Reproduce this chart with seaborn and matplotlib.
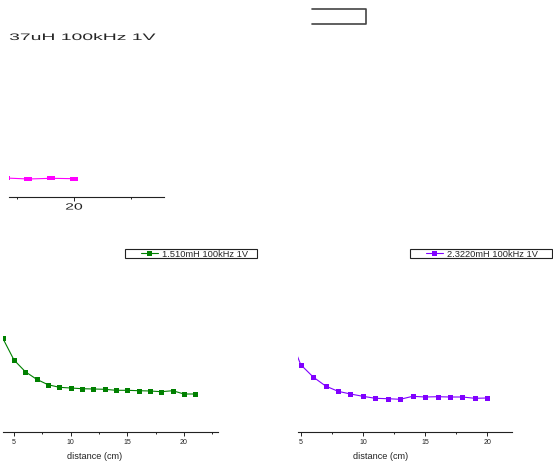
import matplotlib
matplotlib.use('Agg')
import matplotlib.pyplot as plt
import matplotlib.patheffects as pe
from matplotlib.transforms import Affine2D
from matplotlib.path import Path
from matplotlib.lines import Line2D
from matplotlib.ticker import MultipleLocator
import seaborn as sns

# top-left panel (only a cropped piece is visible)
dist_top = [14, 16, 18, 20]
volt_top = [0.19, 0.18, 0.187, 0.183]
label_top = "37uH 100kHz 1V"

# bottom-left panel
dist_green = list(range(4, 22))
volt_green = [0.94, 0.72, 0.603, 0.527, 0.473, 0.447, 0.44, 0.433, 0.43,
              0.427, 0.417, 0.417, 0.413, 0.41, 0.403, 0.413, 0.38, 0.38]
label_green = "1.510mH 100kHz 1V"

# bottom-right panel
dist_purple = list(range(4, 21))
volt_purple = [0.99, 0.673, 0.55, 0.46, 0.407, 0.38, 0.357, 0.337, 0.333,
               0.327, 0.357, 0.35, 0.353, 0.35, 0.35, 0.337, 0.34]
label_purple = "2.3220mH 100kHz 1V"

xlabel = "distance (cm)"

W, H = 553, 464


class Stretch(pe.AbstractPathEffect):
    # the top part of the picture is squeezed sideways, widen the glyphs
    def __init__(self, sx, about=0.0):
        super().__init__()
        self.sx = sx
        self.about = about

    def draw_path(self, renderer, gc, tpath, affine, rgbFace=None):
        ext = tpath.get_extents(affine)
        x0 = ext.x0 + self.about * ext.width
        t = affine + Affine2D().translate(-x0, 0).scale(self.sx, 1).translate(x0, 0)
        renderer.draw_path(gc, tpath, t, rgbFace)


def origin_box(left_em, right_em):
    # legend frame with more room left of the handle than right of the text
    def box(x0, y0, w, h, mutation_size):
        x0 -= left_em * mutation_size
        w += (left_em + right_em) * mutation_size
        return Path([(x0, y0), (x0 + w, y0), (x0 + w, y0 + h), (x0, y0 + h), (x0, y0)], closed=True)
    return box


def px(l, t, r, b):
    return [l / W, 1 - b / H, (r - l) / W, (b - t) / H]


def style(ax, lsize):
    sns.despine(ax=ax, left=True)
    ax.set_yticks([])
    ax.set_ylabel('')
    ax.spines['bottom'].set_linewidth(0.8)
    ax.spines['bottom'].set_color('#222222')
    ax.tick_params(axis='x', which='major', direction='out', length=2.6, width=0.7,
                   labelsize=lsize, pad=2, color='#222222', labelcolor='#222222')
    ax.tick_params(axis='x', which='minor', direction='out', length=1.6, width=0.7,
                   color='#222222')


sns.set_style('ticks')
plt.rcParams['font.family'] = ['Liberation Sans', 'DejaVu Sans']

fig = plt.figure(figsize=(W / 100, H / 100), dpi=100)

# ---- top-left piece
ax1 = fig.add_axes(px(9, 15, 164, 198))
rect = [(-1, -0.5), (1, -0.5), (1, 0.5), (-1, 0.5), (-1, -0.5)]
sns.lineplot(x=dist_top, y=volt_top, ax=ax1, color='#ff00ff', marker=rect,
             markersize=5.8, markeredgewidth=0, linewidth=0.8, label=label_top)
ax1.set_xlabel('')
style(ax1, 6.5)
ax1.set_xticks([10, 20, 30])
ax1.set_xticks([15, 25], minor=True)
ax1.set_xlim(14.3, 27.9)
ax1.set_ylim(0, 1.83)
ax1.tick_params(axis='x', which='major', length=3, pad=1)
for tk in ax1.xaxis.get_major_ticks():
    tk.label1.set_path_effects([Stretch(1.75, 0.5)])
leg1 = ax1.legend(loc='upper left', bbox_to_anchor=(-33 / W, 1 - 34 / H),
                  bbox_transform=fig.transFigure, frameon=False, fontsize=6.8,
                  borderpad=0, borderaxespad=0, handlelength=2, handletextpad=2.5)
for t in leg1.get_texts():
    t.set_path_effects([Stretch(2.05)])

# ---- bottom-left
ax2 = fig.add_axes(px(3, 240, 218, 433))
sns.lineplot(x=dist_green, y=volt_green, ax=ax2, color='#008000', marker='s',
             markersize=3.6, markeredgewidth=0, linewidth=0.8, label=label_green)
ax2.set_xlim(4.03, 23.0)
ax2.set_ylim(0, 1.93)

# ---- bottom-right
ax3 = fig.add_axes(px(298, 240, 512, 433))
sns.lineplot(x=dist_purple, y=volt_purple, ax=ax3, color='#8000ff', marker='s',
             markersize=3.6, markeredgewidth=0, linewidth=0.8, label=label_purple)
ax3.set_xlim(4.78, 21.99)
ax3.set_ylim(0, 1.93)

for ax, right, right_em, lx in [(ax2, 248.5, 0.9, 0.424), (ax3, 538.5, 1.45, 0.387)]:
    style(ax, 5)
    ax.xaxis.set_major_locator(MultipleLocator(5))
    ax.xaxis.set_minor_locator(MultipleLocator(2.5))
    ax.set_xlabel(xlabel, fontsize=6.6, color='#222222')
    ax.xaxis.set_label_coords(lx, -0.098)
    leg = ax.legend(loc='upper right', bbox_to_anchor=(right / W, 1 - 249.5 / H),
                    bbox_transform=fig.transFigure, fontsize=6.7, borderpad=0.05,
                    borderaxespad=0, handlelength=1.85, handletextpad=0.45,
                    fancybox=False, framealpha=1)
    leg.get_frame().set_edgecolor('#222222')
    leg.get_frame().set_linewidth(0.8)
    leg.legendPatch.set_boxstyle(origin_box(1.6, right_em))

# empty legend frame of a panel that is cut off at the top
x0, x1 = 312 / W, 366 / W
yt, yb = 1 - 9.5 / H, 1 - 25 / H
fig.add_artist(Line2D([x0, x1, x1, x0], [yt, yt, yb, yb], transform=fig.transFigure,
                      color='#444444', linewidth=1.2))

fig.savefig('out.png', dpi=100)
